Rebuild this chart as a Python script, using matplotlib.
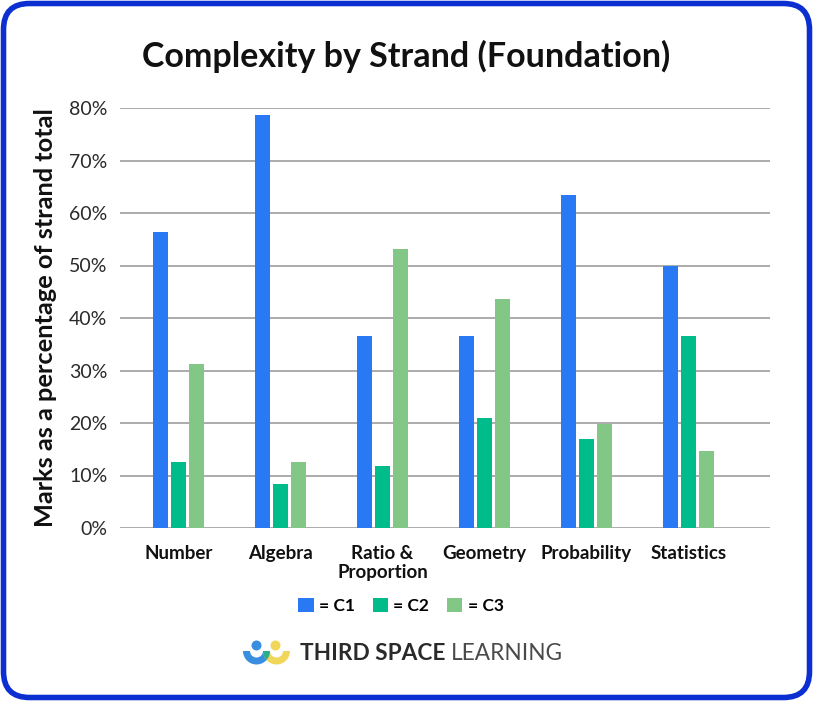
import numpy as np
import matplotlib
matplotlib.use("Agg")
import matplotlib.pyplot as plt
import matplotlib.patches as patches
from matplotlib.ticker import PercentFormatter

plt.rcParams['font.family'] = ['Lato', 'DejaVu Sans']

strands = ["Number", "Algebra", "Ratio &\nProportion", "Geometry", "Probability", "Statistics"]
c1 = [56.3, 78.6, 36.6, 36.6, 63.4, 50.0]
c2 = [12.5, 8.3, 11.9, 20.9, 16.9, 36.6]
c3 = [31.3, 12.5, 53.1, 43.7, 19.9, 14.7]
series_names = ["= C1", "= C2", "= C3"]
colors = ["#2979F5", "#00BC8A", "#82C785"]

W, H = 813, 701
fig = plt.figure(figsize=(W / 100, H / 100), dpi=100)
fig.patch.set_facecolor("white")

# background layer in pixel coords for border + logo
bg = fig.add_axes([0, 0, 1, 1])
bg.set_xlim(0, W)
bg.set_ylim(H, 0)
bg.axis("off")
border = patches.FancyBboxPatch((3.5, 3.5), W - 7, H - 7,
                                boxstyle="round,pad=0,rounding_size=26",
                                fc="white", ec="#0B2FD1", lw=4)
bg.add_patch(border)

# plot area
ax = fig.add_axes([120 / W, (H - 528) / H, 650 / W, 420 / H])
x = np.arange(len(strands))
bw = 0.147
off = 0.176
for i, (vals, col) in enumerate(zip([c1, c2, c3], colors)):
    ax.bar(x + (i - 1) * off, vals, width=bw, color=col, zorder=3, label=series_names[i])

ax.set_xlim(-0.574, 5.8)
ax.set_ylim(0, 80)
ax.set_yticks(np.arange(0, 81, 10))
ax.yaxis.set_major_formatter(PercentFormatter(decimals=0))
ax.grid(axis="y", color="#ABABAB", lw=1.4, zorder=0)
for s in ax.spines.values():
    s.set_visible(False)
ax.tick_params(axis="y", length=0, pad=9, labelsize=14, labelcolor="#2A2A2A")
ax.tick_params(axis="x", length=0, pad=12)
ax.set_xticks(x)
ax.set_xticklabels(strands, fontsize=13.5, fontweight="bold", color="#111111", linespacing=1.2)
ax.set_ylabel("Marks as a percentage of strand total", fontsize=18.3, fontweight="bold",
              labelpad=9, color="#111111")

fig.text(406 / W, 1 - 56 / H, "Complexity by Strand (Foundation)", ha="center", va="center",
         fontsize=24.5, fontweight="bold", color="#111111")

leg = fig.legend(loc="center", bbox_to_anchor=(401 / W, 1 - 606 / H), ncol=3, frameon=False,
                 handlelength=0.9, handleheight=0.9, handletextpad=0.3, columnspacing=1.0,
                 prop={"weight": "bold", "size": 12.5})

# logo (y axis of bg is inverted, so the lower half is 0..180 degrees)
blue_bowl = patches.Wedge((256.5, 651), 13.5, 0, 180, width=7, fc="#3A8EE0", ec="none")
yellow_bowl = patches.Wedge((276.5, 651), 13.5, 0, 180, width=7, fc="#F0D75A", ec="none")
bg.add_patch(blue_bowl)
bg.add_patch(yellow_bowl)
overlap = patches.Wedge((256.5, 651), 13.5, 0, 90, width=7, fc="#2BAE8A", ec="none", zorder=3)
bg.add_patch(overlap)
overlap.set_clip_path(yellow_bowl)
bg.add_patch(patches.Circle((256.5, 645.5), 5, fc="#3A8EE0", ec="none"))
bg.add_patch(patches.Circle((275.5, 645.5), 5, fc="#F0D75A", ec="none"))
t1 = bg.text(300, 654, "THIRD SPACE ", fontsize=16.3, fontweight="bold", color="#2A2A2A",
             va="center", ha="left")
bg.annotate("LEARNING", xy=(1, 0.5), xycoords=t1, va="center", ha="left",
            fontsize=16.3, color="#4A4A4A")

fig.savefig("out.png", dpi=100)
